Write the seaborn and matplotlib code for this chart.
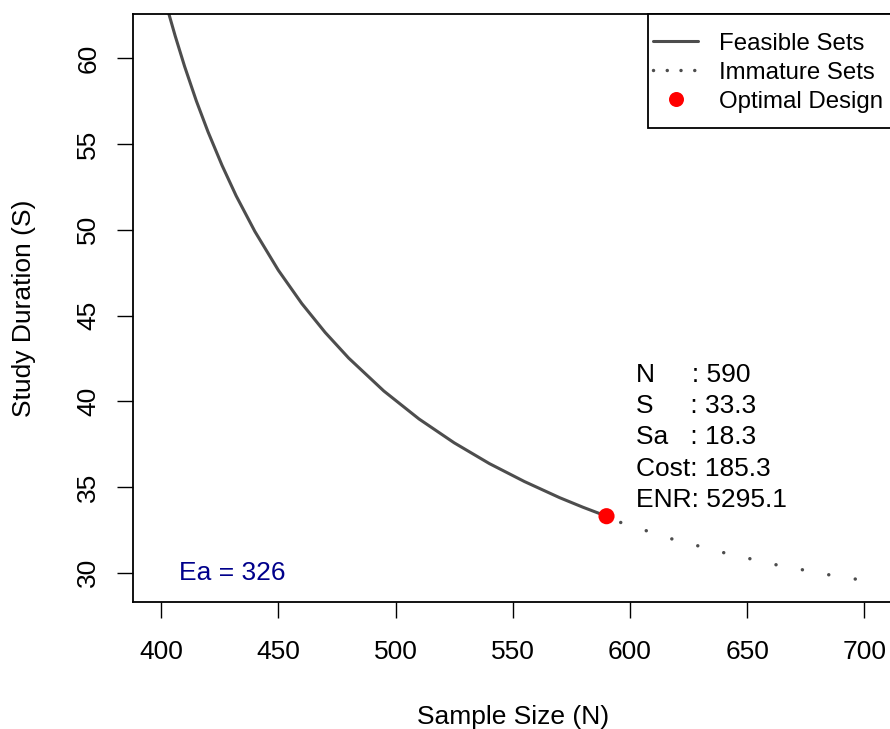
import matplotlib
matplotlib.use("Agg")
import matplotlib.pyplot as plt
from matplotlib.lines import Line2D
from matplotlib.patches import Rectangle
import seaborn as sns
import pandas as pd

# Feasible sets (solid curve)
feasible_N = [400, 403, 406, 410, 415, 420, 426, 432, 440, 450, 460, 470, 480,
              495, 510, 525, 540, 555, 570, 580, 590]
feasible_S = [64.26, 62.73, 61.30, 59.53, 57.52, 55.71, 53.75, 51.98, 49.90, 47.64,
              45.70, 44.01, 42.52, 40.60, 38.97, 37.58, 36.37, 35.32, 34.38, 33.82, 33.30]

# Immature sets (dotted curve)
immature_N = [590.0, 596.3, 618.0, 640.1, 662.3, 684.6, 700.0]
immature_S = [33.30, 32.92, 31.97, 31.17, 30.47, 29.89, 29.55]

# Optimal design
opt_N = [590]
opt_S = [33.3]

info_lines = ["N     : 590", "S     : 33.3", "Sa   : 18.3", "Cost: 185.3", "ENR: 5295.1"]
ea_text = "Ea = 326"
legend_labels = ["Feasible Sets", "Immature Sets", "Optimal Design"]

sns.set_theme(style="white")
plt.rcParams["font.family"] = ["Liberation Sans", "DejaVu Sans"]

W, H = 890, 729
fig = plt.figure(figsize=(W / 100, H / 100), dpi=100)
left, right, top, bottom = 133, 892.5, 14, 602.3
ax = fig.add_axes([left / W, 1 - bottom / H, (right - left) / W, (bottom - top) / H])

line_col = "#4d4d4d"
dot_lw = 2.5
dot_style = (3.26, (0.01, 7.72))
df_f = pd.DataFrame({"N": feasible_N, "S": feasible_S})
df_i = pd.DataFrame({"N": immature_N, "S": immature_S})
df_o = pd.DataFrame({"N": opt_N, "S": opt_S})

sns.lineplot(data=df_f, x="N", y="S", ax=ax, color=line_col, lw=2.2, sort=False)
sns.lineplot(data=df_i, x="N", y="S", ax=ax, color=line_col, lw=dot_lw, sort=False,
             linestyle=dot_style, dash_capstyle="round")
sns.scatterplot(data=df_o, x="N", y="S", ax=ax, color="red", s=135, edgecolor="none",
                zorder=5)

ax.set_xlim(388, 712)
ax.set_ylim(28.28, 62.58)
ax.set_xticks([400, 450, 500, 550, 600, 650, 700])
ax.set_yticks([30, 35, 40, 45, 50, 55, 60])
ax.tick_params(axis="both", direction="out", length=11.5, width=1.0, color="black",
               labelsize=19, labelcolor="black", left=True, bottom=True)
ax.tick_params(axis="x", pad=16)
ax.tick_params(axis="y", pad=12)
for lab in ax.get_yticklabels():
    lab.set_rotation(90)
    lab.set_va("center")
for sp in ax.spines.values():
    sp.set_color("black")
    sp.set_linewidth(1.3)

ax.set_xlabel("Sample Size (N)", fontsize=19, labelpad=29, color="black")
ax.set_ylabel("Study Duration (S)", fontsize=19, labelpad=29, color="black")

# info block
for i, t in enumerate(info_lines):
    ax.text(602.5, 62.58 - (375 - 14) / 17.15 - i * (31.2 / 17.15), t, fontsize=19,
            ha="left", va="center", color="black")

ax.text(407.5, 30.0, ea_text, fontsize=19, color="#00008B", ha="left", va="center")

# legend frame (R-style box aligned with plot top/right)
frame = Rectangle((648 / W, 1 - 128 / H), (900 - 648) / W, (128 - 14) / H,
                  transform=fig.transFigure, facecolor="white", edgecolor="black",
                  lw=1.3, zorder=4, clip_on=False)
fig.add_artist(frame)

handles = [
    Line2D([], [], color=line_col, lw=2.2),
    Line2D([], [], color=line_col, lw=dot_lw, linestyle=(0, (0.01, 3.95)), dash_capstyle="round"),
    Line2D([], [], color="red", marker="o", linestyle="none", markersize=10.8, markeredgewidth=0),
]
leg = fig.legend(handles, legend_labels, loc="upper left",
                 bbox_to_anchor=(653 / W, 1 - 31.5 / H), bbox_transform=fig.transFigure,
                 fontsize=17.3, frameon=False, borderpad=0, handlelength=1.873,
                 handletextpad=0.874, handleheight=1.0, labelspacing=0.2,
                 borderaxespad=0, labelcolor="black")
leg.set_zorder(6)

fig.savefig("out.png", dpi=100)
